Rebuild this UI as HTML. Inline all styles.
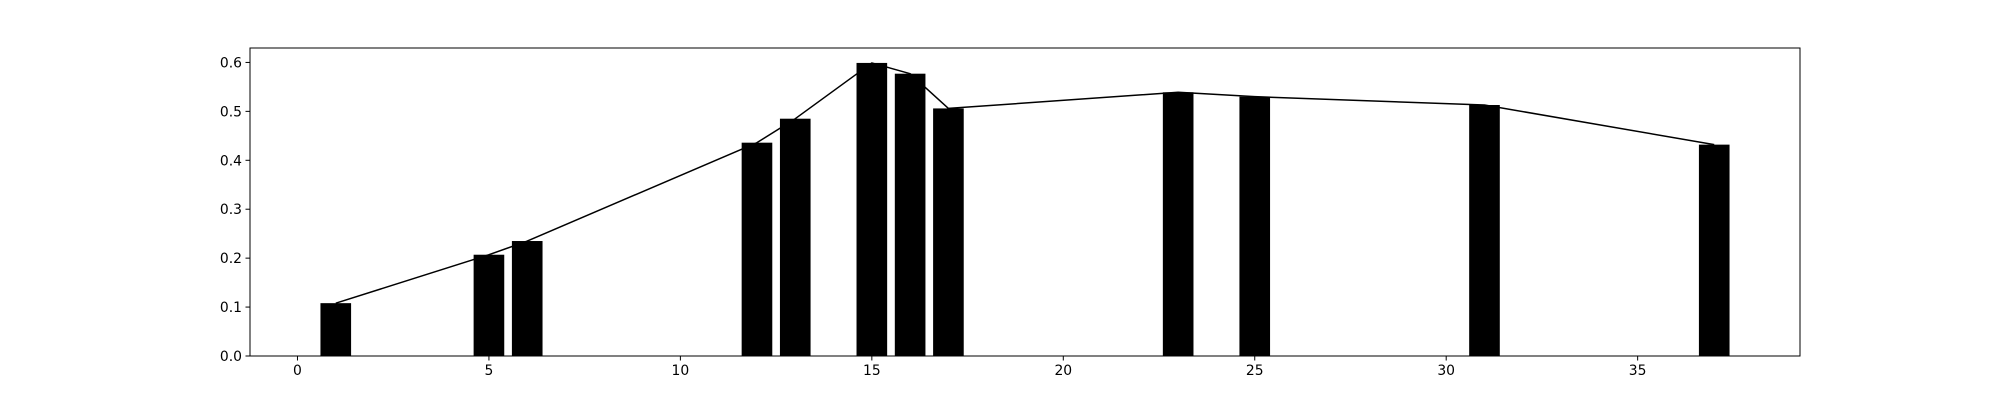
<!DOCTYPE html>
<html><head><meta charset="utf-8"><style>
html,body{margin:0;padding:0;background:#fff;}
svg{display:block;font-family:"DejaVu Sans","Liberation Sans",sans-serif;}
</style></head><body>
<svg id="chart" width="2000" height="400"></svg>
<script>
const categories = [1,5,6,12,13,15,16,17,23,25,31,37];
const barValues = [0.108,0.207,0.235,0.436,0.485,0.599,0.577,0.506,0.539,0.530,0.513,0.432];
const lineValues = [0.108,0.207,0.235,0.436,0.485,0.599,0.577,0.506,0.539,0.530,0.513,0.432];
const xTicks = [0,5,10,15,20,25,30,35];
const yTicks = [0.0,0.1,0.2,0.3,0.4,0.5,0.6];

const NS="http://www.w3.org/2000/svg";
const svg=document.getElementById('chart');
const L=250,R=1800,T=48,B=356;
const xmin=-1.24,xmax=39.24,ymin=0,ymax=0.6295;
const xs=v=>L+(v-xmin)/(xmax-xmin)*(R-L);
const ys=v=>B-(v-ymin)/(ymax-ymin)*(B-T);
function mk(t,a){const e=document.createElementNS(NS,t);for(const k in a)e.setAttribute(k,a[k]);svg.appendChild(e);return e;}

categories.forEach((c,i)=>{
  const r=mk('rect',{x:xs(c-0.4),y:ys(barValues[i]),width:xs(c+0.4)-xs(c-0.4),height:ys(0)-ys(barValues[i]),fill:'#000'});
  
  
});
const pl=mk('polyline',{points:categories.map((c,i)=>xs(c)+','+ys(lineValues[i])).join(' '),fill:'none',stroke:'#000','stroke-width':1.5,'stroke-linejoin':'round'});



const frame=mk('rect',{x:L,y:T,width:R-L,height:B-T,fill:'none',stroke:'#000','stroke-width':1});



xTicks.forEach(t=>{
  const x=xs(t);
  const tk=mk('line',{x1:x,y1:B,x2:x,y2:B+4.5,stroke:'#000','stroke-width':1});
  
  
  const tx=mk('text',{x:x,y:B+19,'text-anchor':'middle','font-size':13.9,fill:'#000'});
  tx.textContent=t;
  
  
});
yTicks.forEach(t=>{
  const y=ys(t);
  const tk=mk('line',{x1:L-4.5,y1:y,x2:L,y2:y,stroke:'#000','stroke-width':1});
  
  
  const tx=mk('text',{x:L-8,y:y+5,'text-anchor':'end','font-size':13.9,fill:'#000'});
  tx.textContent=t.toFixed(1);
  
  
});
</script>
</body></html>
